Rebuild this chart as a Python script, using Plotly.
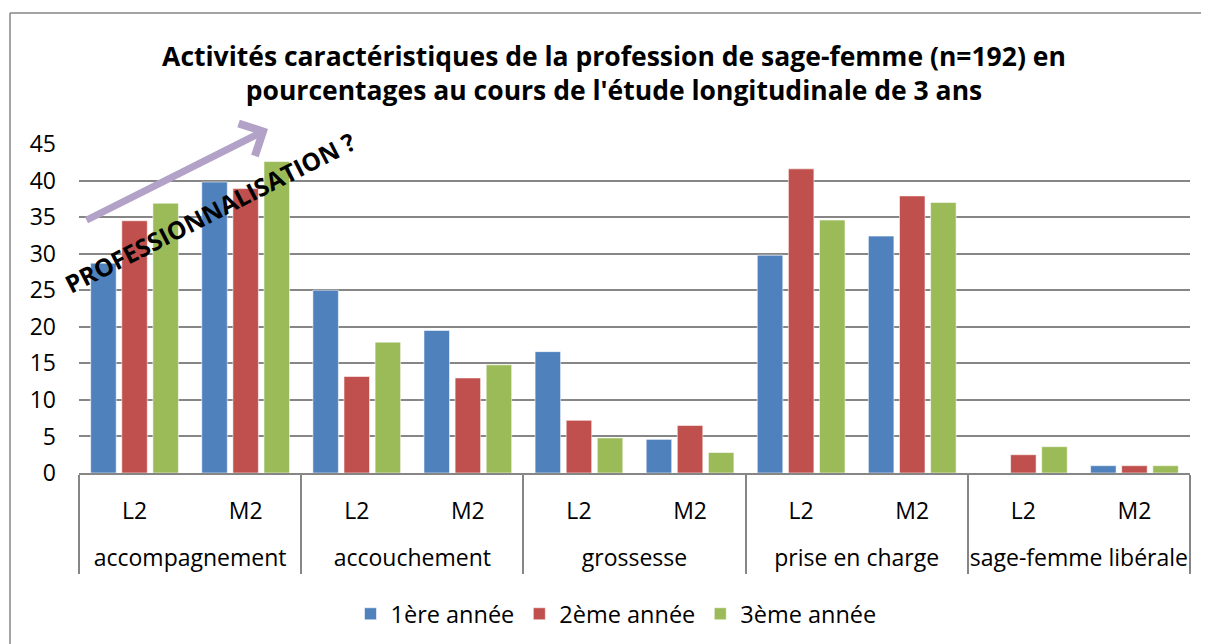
import plotly.graph_objects as go

# ---- data ----
activities = ["accompagnement", "accouchement", "grossesse", "prise en charge", "sage-femme libérale"]
levels = ["L2", "M2"]
series_names = ["1ère année", "2ème année", "3ème année"]
annee1 = [28.7, 39.8, 25.0, 19.5, 16.6, 4.6, 29.8, 32.4, 0.0, 1.0]
annee2 = [34.5, 38.9, 13.2, 13.0, 7.2, 6.5, 41.6, 37.9, 2.5, 1.0]
annee3 = [36.9, 42.6, 17.9, 14.8, 4.8, 2.8, 34.6, 37.0, 3.6, 1.0]
y_ticks = [0, 5, 10, 15, 20, 25, 30, 35, 40, 45]
colors = ["#4F81BD", "#C0504D", "#9BBB59"]

major = [a for a in activities for _ in levels]
minor = [l + "<br> " for _ in activities for l in levels]

FONT = "Open Sans, Lato, sans-serif"

fig = go.Figure()
for name, vals, col in zip(series_names, [annee1, annee2, annee3], colors):
    fig.add_trace(go.Bar(
        x=[major, minor], y=vals, name=name,
        marker=dict(color=col, line=dict(color="rgba(255,255,255,0.55)", width=1)),
    ))

# page has an 8px body margin: figure origin sits at (8, 8) of the window
OFF = 8
W, H = 1209 - OFF, 644 - OFF
# plot area in window pixels: x 79..1190, y 144..473
L, R = 79 - OFF, W - (1190 - OFF)
T, B = 144 - OFF, H - (473 - OFF)
pw, ph = 1190 - 79, 473 - 144

def px(x):  # window x -> paper
    return (x - 79) / pw

def py(y):  # window y -> paper
    return (473 - y) / ph

fig.update_layout(
    width=W, height=H,
    margin=dict(l=L, r=R, t=T, b=B, autoexpand=False),
    paper_bgcolor="white", plot_bgcolor="white",
    font=dict(family=FONT, size=23, color="black"),
    title=dict(
        text="<b>Activités caractéristiques de la profession de sage-femme (n=192) en<br>pourcentages au cours de l'étude longitudinale de 3 ans</b>",
        x=(614 - OFF) / W, xanchor="center", y=1 - (66 - OFF) / H, yanchor="middle",
        font=dict(family=FONT, size=26.5, color="black"),
    ),
    barmode="group", bargap=0.16, bargroupgap=0.18,
    showlegend=True,
    legend=dict(orientation="h", x=px(616), xanchor="center", y=py(614), yanchor="middle",
                font=dict(size=23.5), itemwidth=30, traceorder="normal"),
    xaxis=dict(
        type="multicategory", showline=True, linecolor="#868686", linewidth=1.5,
        showdividers=True, dividercolor="#868686", dividerwidth=1.5,
        tickfont=dict(size=23), ticks="", ticklabelstandoff=17,
    ),
    yaxis=dict(
        range=[0, 45], tickvals=y_ticks, showgrid=True, gridcolor="#868686", gridwidth=1.8,
        zeroline=False, showline=False, tickfont=dict(size=23), ticks="",
        ticklabelstandoff=22,
    ),
)

# frame lines (outer chart border)
fig.add_shape(type="line", xref="paper", yref="paper", x0=px(10), x1=px(1230), y0=py(13), y1=py(13),
              line=dict(color="#868686", width=1.5))
fig.add_shape(type="line", xref="paper", yref="paper", x0=px(10), x1=px(10), y0=py(13), y1=py(660),
              line=dict(color="#868686", width=1.5))

# purple arrow
fig.add_annotation(xref="paper", yref="paper", x=px(268), y=py(129), text="",
                   showarrow=True, arrowhead=4, arrowsize=1, arrowwidth=7, arrowcolor="#B3A2C7",
                   axref="pixel", ayref="pixel", ax=-183, ay=92)
# label
fig.add_annotation(xref="paper", yref="paper", x=px(210), y=py(212), xanchor="center", yanchor="middle",
                   text="<b>PROFESSIONNALISATION ?</b>",
                   showarrow=False, textangle=-27, font=dict(family=FONT, size=24.5, color="black"))

fig.write_html("out.html")
